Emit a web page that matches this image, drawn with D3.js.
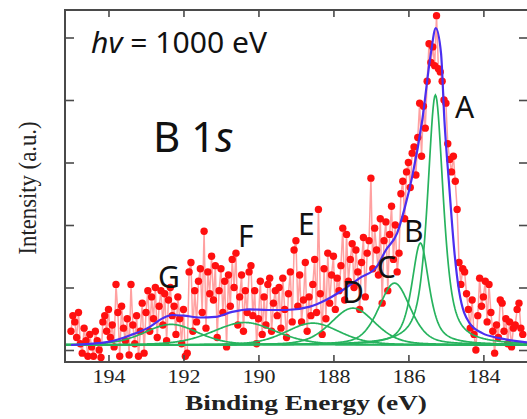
<!DOCTYPE html>
<meta charset="utf-8">
<script src="https://cdn.jsdelivr.net/npm/d3@7"></script>
<style>
  body { margin: 0; background: #fff; }
</style>
<div id="chart"></div>
<script>

// measured spectrum, binding energy 195.00 -> 182.95 eV in 0.05 eV steps
var energyStart = 195.0, energyStep = 0.05;
var counts = [
  0.3, 0.55, 0.45, 0.2, 0.6, 0.1, -0.05, 0.35, 0.15, -0.1,
  0.25, 0.05, -0.1, 0.3, 0.15, 0.0, -0.12, 0.45, 0.55, 0.3,
  0.65, 0.2, 0.4, 0.05, 1.05, 0.6, -0.1, 0.7, 0.35, 0.15,
  0.5, -0.08, 1.05, 0.4, 0.1, 0.55, -0.1, 0.3, 0.75, -0.05,
  0.6, 0.95, 0.3, 0.85, 0.5, 1.0, 0.2, 0.7, 0.95, 0.4,
  0.9, 0.15, 0.8, 1.0, 0.55, 0.7, 0.25, 0.85, 0.5, 0.1,
  0.65, -0.1, -0.05, 1.25, 1.4, 0.3, 0.95, 0.45, 1.1, 1.3,
  0.6, 1.9, 0.35, 1.25, 0.9, 1.5, 0.8, 1.35, 0.2, 0.95,
  1.3, 0.6, 1.1, 0.05, 1.2, 0.7, 1.45, 1.0, 1.55, 0.4,
  0.85, 1.2, 0.3, 0.95, 0.6, 1.25, 1.35, 0.55, 0.95, 0.1,
  0.5, 1.1, 0.25, 0.85, 0.4, 1.05, 1.15, 0.3, 0.75, 0.95,
  0.55, 1.0, 0.35, 1.15, 0.65, 0.2, 0.9, 1.25, 0.45, 1.6,
  1.75, 0.7, 1.2, 0.45, 0.8, 1.4, 0.3, 0.85, 0.55, 1.05,
  1.45, 0.6, 2.25, 0.9, 0.25, 1.3, 0.5, 1.55, 0.75, 1.2,
  1.5, 0.65, 1.15, 0.95, 1.35, 1.95, 0.8, 1.85, 1.1, 1.45,
  1.7, 1.0, 1.6, 1.25, 0.65, 1.4, 1.8, 0.85, 1.55, 1.75,
  2.75, 1.3, 1.95, 1.6, 1.2, 2.1, 0.75, 1.75, 2.05, 0.95,
  1.85, 2.3, 1.45, 2.0, 1.25, 1.55, 2.5, 2.7, 2.1, 2.85,
  3.0, 2.6, 3.15, 3.25, 2.8, 3.4, 3.95, 3.1, 3.9, 3.55,
  4.3, 4.9, 4.6, 4.85, 4.55, 5.35, 4.5, 4.45, 4.3, 4.0,
  3.95, 3.3, 3.05, 2.85, 3.1, 2.7, 2.25, 1.4, 1.05, 1.3,
  1.25, 0.9, 0.65, 0.35, 0.8, 0.25, 0.0, 0.55, 1.15, 0.7,
  0.85, 1.1, 0.45, 1.05, 0.6, 0.3, -0.05, 0.4, 0.2, 0.8,
  0.75, 0.3, 0.5, 0.1, 0.45, 0.05, 0.35, 0.4, 0.65, 0.75,
  0.35, 0.25
];

// fitted envelope (blue)
var envEnergy = [195.0, 194.0, 193.4, 192.9, 192.55, 192.3, 192.0, 191.55, 191.15, 190.7,
  190.25, 189.75, 189.25, 188.65, 188.2, 187.75, 187.3, 186.85, 186.6, 186.3,
  186.1, 185.9, 185.63, 185.4, 185.27, 185.13, 185.04, 184.91, 184.77, 184.65,
  184.37, 184.03, 183.57, 182.95, 182.8];
var envIntensity = [0.08, 0.13, 0.24, 0.37, 0.51, 0.56, 0.55, 0.52, 0.53, 0.61,
  0.65, 0.64, 0.64, 0.69, 0.8, 0.96, 1.15, 1.33, 1.6, 1.87,
  2.27, 2.77, 3.68, 4.75, 5.15, 4.75, 3.68, 2.61, 1.55, 0.95,
  0.43, 0.27, 0.19, 0.13, 0.12];

// fit components (green): pseudo-Voigt peaks on a flat baseline
var compNames   = ["A", "B", "C", "D", "E", "F", "G"];
var compCenters = [185.28, 185.68, 186.37, 187.48, 188.55, 190.37, 192.33];
var compHeights = [4.0, 1.63, 0.99, 0.59, 0.35, 0.36, 0.33];
var compWidths  = [0.5, 0.55, 1.0, 1.4, 1.7, 2.0, 1.7];
var compMix     = [0.7, 0.7, 0.4, 0.3, 0.3, 0.3, 0.3];
var baseline = 0.08;

var xTicks = [194, 192, 190, 188, 186, 184];
var yTicks = [0, 1, 2, 3, 4, 5];

var W = 527, H = 419;
var frame = {left: 65, top: 10, right: 528, bottom: 362};

var svg = d3.select("#chart").append("svg")
  .attr("width", W).attr("height", H);

var x = d3.scaleLinear()
  .domain([195.16, 182.81])
  .range([frame.left, frame.right]);
var y = d3.scaleLinear()
  .domain([-0.192, 5.44])
  .range([frame.bottom, frame.top]);

svg.append("clipPath").attr("id", "clip")
  .append("rect")
    .attr("x", frame.left).attr("y", frame.top)
    .attr("width", frame.right - frame.left)
    .attr("height", frame.bottom - frame.top);

var plot = svg.append("g").attr("clip-path", "url(#clip)");

var data = counts.map(function(v, i) {
  return {e: energyStart - i * energyStep, v: v};
});

var line = d3.line()
  .x(function(d) { return x(d.e); })
  .y(function(d) { return y(d.v); });

// red data: connecting line then dots
plot.append("path")
  .datum(data)
  .attr("d", line)
  .attr("fill", "none")
  .attr("stroke", "rgba(255,30,30,0.42)")
  .attr("stroke-width", 1.5);

plot.append("g").selectAll("circle")
  .data(data)
  .enter().append("circle")
    .attr("cx", function(d) { return x(d.e); })
    .attr("cy", function(d) { return y(d.v); })
    .attr("r", 3.7)
    .attr("fill", "#ff1010");

// green components
var grid = d3.range(195.2, 182.75, -0.02);
function pv(e, i) {
  var t = (e - compCenters[i]) / compWidths[i];
  var L = 1 / (1 + 4 * t * t);
  var G = Math.exp(-4 * Math.LN2 * t * t);
  return baseline + compHeights[i] * (compMix[i] * L + (1 - compMix[i]) * G);
}
compNames.forEach(function(name, i) {
  plot.append("path")
    .datum(grid.map(function(e) { return {e: e, v: pv(e, i)}; }))
    .attr("d", line)
    .attr("fill", "none")
    .attr("stroke", "#27b35e")
    .attr("stroke-width", 1.7);
});

// blue envelope
plot.append("path")
  .datum(envEnergy.map(function(e, i) { return {e: e, v: envIntensity[i]}; }))
  .attr("d", line.curve(d3.curveMonotoneX))
  .attr("fill", "none")
  .attr("stroke", "#4b2ef0")
  .attr("stroke-width", 2.2);

// frame and ticks
svg.append("rect")
  .attr("x", frame.left).attr("y", frame.top)
  .attr("width", frame.right - frame.left)
  .attr("height", frame.bottom - frame.top)
  .attr("fill", "none")
  .attr("stroke", "#4a4a4a")
  .attr("stroke-width", 2);

var axStyle = function(g) {
  g.select(".domain").remove();
  g.selectAll(".tick line").attr("stroke", "#4a4a4a").attr("stroke-width", 1.6);
};

var bottom = svg.append("g")
  .attr("transform", "translate(0," + frame.bottom + ")")
  .call(d3.axisBottom(x).tickValues(xTicks).tickSizeInner(-7).tickSizeOuter(0))
  .call(axStyle);
bottom.selectAll("text")
  .attr("y", 21).attr("dy", 0)
  .attr("fill", "#222")
  .attr("font-family", "'Liberation Serif', serif")
  .attr("font-size", "19px")
  .attr("textLength", 33)
  .attr("lengthAdjust", "spacingAndGlyphs");

svg.append("g")
  .attr("transform", "translate(0," + frame.top + ")")
  .call(d3.axisTop(x).tickValues(xTicks).tickSizeInner(-7).tickSizeOuter(0).tickFormat(""))
  .call(axStyle);

svg.append("g")
  .attr("transform", "translate(" + frame.left + ",0)")
  .call(d3.axisLeft(y).tickValues(yTicks).tickSizeInner(-9).tickSizeOuter(0).tickFormat(""))
  .call(axStyle);

svg.append("g")
  .attr("transform", "translate(" + frame.right + ",0)")
  .call(d3.axisRight(y).tickValues(yTicks).tickSizeInner(-9).tickSizeOuter(0).tickFormat(""))
  .call(axStyle);

// axis titles
svg.append("text")
  .attr("x", 306).attr("y", 410)
  .attr("text-anchor", "middle")
  .attr("font-family", "'Liberation Serif', serif")
  .attr("font-weight", "bold")
  .attr("font-size", "20px")
  .attr("fill", "#222")
  .attr("textLength", 242)
  .attr("lengthAdjust", "spacingAndGlyphs")
  .text("Binding Energy (eV)");

svg.append("text")
  .attr("transform", "translate(36,188) rotate(-90)")
  .attr("text-anchor", "middle")
  .attr("font-family", "'Liberation Serif', serif")
  .attr("font-size", "26px")
  .attr("fill", "#222")
  .attr("textLength", 133)
  .attr("lengthAdjust", "spacingAndGlyphs")
  .text("Intensity (a.u.)");

// annotations
var hv = svg.append("text")
  .attr("x", 91).attr("y", 53)
  .attr("font-family", "'Noto Sans', sans-serif")
  .attr("font-size", "29px")
  .attr("fill", "#111")
  .attr("textLength", 176)
  .attr("lengthAdjust", "spacingAndGlyphs");
hv.append("tspan").attr("font-style", "italic").text("hv");
hv.append("tspan").text(" = 1000 eV");

var b1s = svg.append("text")
  .attr("x", 153).attr("y", 152)
  .attr("font-family", "'Noto Sans', sans-serif")
  .attr("font-size", "42px")
  .attr("fill", "#111");
b1s.append("tspan").text("B 1");
b1s.append("tspan").attr("font-style", "italic").text("s");

var labelPos = {A: [455, 118], B: [404, 242], C: [377, 278], D: [342, 303],
                E: [298, 235], F: [238, 247], G: [158, 288]};
compNames.forEach(function(name) {
  svg.append("text")
    .attr("x", labelPos[name][0]).attr("y", labelPos[name][1])
    .attr("font-family", "'Noto Sans', sans-serif")
    .attr("font-size", "30px")
    .attr("fill", "#111")
    .text(name);
});
</script>
